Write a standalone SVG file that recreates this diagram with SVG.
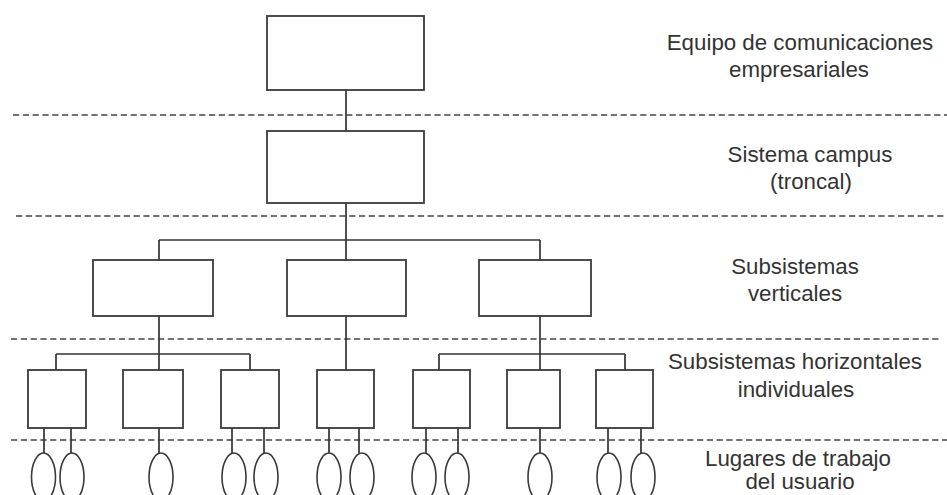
<svg xmlns="http://www.w3.org/2000/svg" width="947" height="495" viewBox="0 0 947 495">
<style>
.box{fill:#fff;stroke:#3a3a3a;stroke-width:1.8}
.ws{fill:#fff;stroke:#3a3a3a;stroke-width:1.6}
.ln{fill:none;stroke:#333;stroke-width:1.7}
.dash{fill:none;stroke:#444;stroke-width:1.6;stroke-dasharray:6.2 3.6}
.lbl{font-family:"Liberation Sans",Arial,sans-serif;font-size:22.3px;fill:#333;text-anchor:middle}
</style>
<rect width="947" height="495" fill="#fff"/>
<g id="separators">
<line class="dash" x1="13" y1="115" x2="947" y2="115"/>
<line class="dash" x1="16" y1="216" x2="947" y2="216"/>
<line class="dash" x1="11" y1="339" x2="942" y2="339"/>
<line class="dash" x1="11" y1="440" x2="947" y2="440"/>
</g>
<g id="connectors">
<path class="ln" d="M346 90V131M346 203V240M159 240H540M159 240V260M346 240V260M540 240V260"/>
<path class="ln" d="M159 316V370M56 354H250M56 354V370M250 354V370"/>
<path class="ln" d="M346 316V370"/>
<path class="ln" d="M540 316V370M439 354H625M439 354V370M625 354V370"/>
<path class="ln" d="M44 428V453M71 428V453M159 428V453M232 428V453M264 428V453M329 428V453M359 428V453M426 428V453M458 428V453M540 428V453M608 428V453M641 428V453"/>
</g>
<g id="enterprise"><rect class="box" x="267" y="16" width="157" height="74"/></g>
<g id="campus"><rect class="box" x="267" y="131" width="157" height="72"/></g>
<g id="vertical1"><rect class="box" x="93" y="260" width="120" height="56"/></g>
<g id="vertical2"><rect class="box" x="287" y="260" width="119" height="56"/></g>
<g id="vertical3"><rect class="box" x="479" y="260" width="112" height="56"/></g>
<g id="horizontal1"><rect class="box" x="28" y="370" width="58" height="58"/></g>
<g id="horizontal2"><rect class="box" x="123" y="370" width="60" height="58"/></g>
<g id="horizontal3"><rect class="box" x="221" y="370" width="58" height="58"/></g>
<g id="horizontal4"><rect class="box" x="317" y="370" width="57" height="58"/></g>
<g id="horizontal5"><rect class="box" x="413" y="370" width="57" height="58"/></g>
<g id="horizontal6"><rect class="box" x="507" y="370" width="53" height="58"/></g>
<g id="horizontal7"><rect class="box" x="596" y="370" width="57" height="58"/></g>
<g id="workstations">
<ellipse class="ws" cx="43.5" cy="477" rx="12" ry="24"/>
<ellipse class="ws" cx="72" cy="477" rx="12" ry="24"/>
<ellipse class="ws" cx="161" cy="477" rx="12" ry="24"/>
<ellipse class="ws" cx="234" cy="477" rx="12" ry="24"/>
<ellipse class="ws" cx="266" cy="477" rx="12" ry="24"/>
<ellipse class="ws" cx="329" cy="477" rx="12" ry="24"/>
<ellipse class="ws" cx="362" cy="477" rx="12" ry="24"/>
<ellipse class="ws" cx="424" cy="477" rx="12" ry="24"/>
<ellipse class="ws" cx="457" cy="477" rx="12" ry="24"/>
<ellipse class="ws" cx="540" cy="477" rx="12" ry="24"/>
<ellipse class="ws" cx="609" cy="477" rx="12" ry="24"/>
<ellipse class="ws" cx="643" cy="477" rx="12" ry="24"/>
</g>
<g id="labels">
<text class="lbl" x="800" y="50">Equipo de comunicaciones</text>
<text class="lbl" x="799" y="77">empresariales</text>
<text class="lbl" x="810" y="162">Sistema campus</text>
<text class="lbl" x="811" y="189">(troncal)</text>
<text class="lbl" x="795" y="274">Subsistemas</text>
<text class="lbl" x="795" y="301">verticales</text>
<text class="lbl" x="795" y="369">Subsistemas horizontales</text>
<text class="lbl" x="796" y="397">individuales</text>
<text class="lbl" x="798" y="466">Lugares de trabajo</text>
<text class="lbl" x="800" y="489">del usuario</text>
</g>
</svg>
